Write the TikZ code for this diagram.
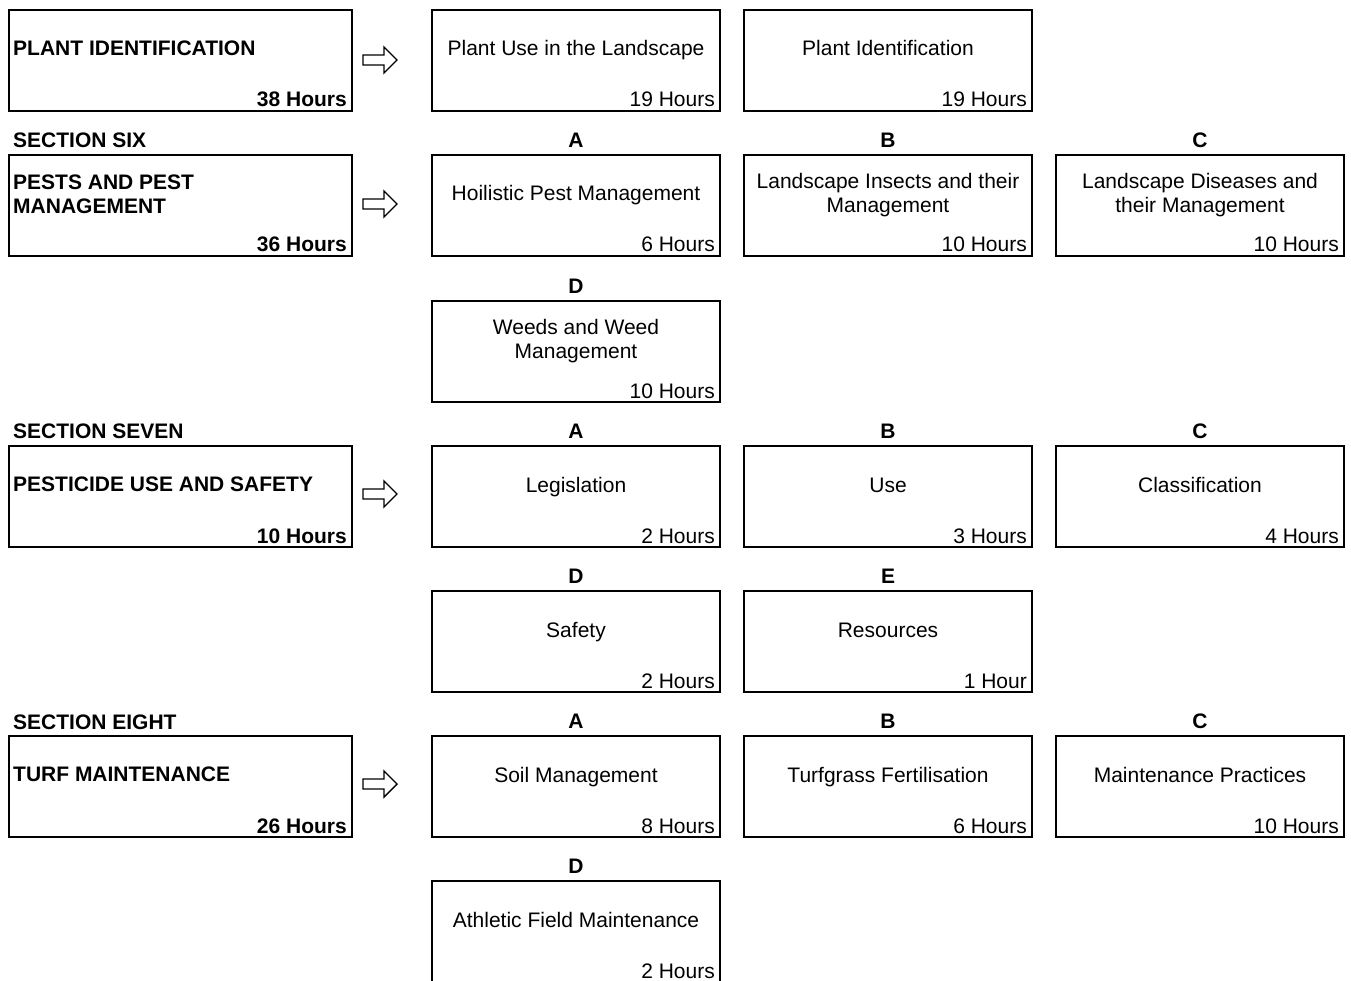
\documentclass[tikz,border=0pt]{standalone}
\usepackage{fontspec}
\setmainfont{Liberation Sans}
\usetikzlibrary{calc}
\tikzset{
  box/.style={draw, line width=2pt, anchor=north west, minimum height=101pt, inner sep=0pt},
  lbox/.style={box, minimum width=343pt},
  sbox/.style={box, minimum width=288pt},
  ttl/.style={font=\fontsize{21}{24}\selectfont, align=center, inner sep=0pt},
  ttl1/.style={font=\fontsize{21}{24}\selectfont, inner sep=0pt, anchor=base},
  ltl/.style={font=\fontsize{21}{24}\selectfont\bfseries, align=left, inner sep=0pt, anchor=west},
  hrs/.style={font=\fontsize{21}{24}\selectfont, inner sep=0pt, anchor=base east, xshift=-6pt, yshift=5pt},
  bhrs/.style={hrs, font=\fontsize{21}{24}\selectfont\bfseries},
  let/.style={font=\fontsize{21}{24}\selectfont\bfseries, inner sep=0pt, yshift=14pt},
  sec/.style={font=\fontsize{21}{24}\selectfont\bfseries, inner sep=0pt, anchor=west},
  arr/.style={draw, line width=1.4pt, line join=miter}
}
\newcommand{\openarrow}[1]{\draw[arr] ($(#1)+(-17,-5)$) -- ($(#1)+(4,-5)$) -- ($(#1)+(4,-13)$) -- ($(#1)+(17,0)$) -- ($(#1)+(4,13)$) -- ($(#1)+(4,5)$) -- ($(#1)+(-17,5)$) -- cycle;}
\begin{document}
\begin{tikzpicture}[x=1pt,y=-1pt]
\useasboundingbox (0,0) rectangle (1351,981);
\clip (0,0) rectangle (1351,981);
% ---------- Row 1 ----------
\node[lbox] (l1) at (8,9) {};
\node[ltl] (l1t) at (13,48) {PLANT IDENTIFICATION};
\node[bhrs] (l1h) at (l1.south east) {38 Hours};
\coordinate (a1) at (380,60);
\openarrow{a1}
\node[sbox] (b1a) at (431,9) {};
\node[ttl1] (b1at) at ($(b1a.north)+(0,47)$) {Plant Use in the Landscape};
\node[hrs] (b1ah) at (b1a.south east) {19 Hours};
\node[sbox] (b1b) at (743,9) {};
\node[ttl1] (b1bt) at ($(b1b.north)+(0,47)$) {Plant Identification};
\node[hrs] (b1bh) at (b1b.south east) {19 Hours};
% ---------- Section six ----------
\node[sec] (s6) at (13,140) {SECTION SIX};
\node[lbox] (l2) at (8,154) {};
\node[ltl] (l2t) at (13,194) {PESTS AND PEST\\MANAGEMENT};
\node[bhrs] (l2h) at (l2.south east) {36 Hours};
\coordinate (a2) at (380,204);
\openarrow{a2}
\node[sbox] (b2a) at (431,154) {};
\node[let] (b2al) at (b2a.north) {A};
\node[ttl1] (b2at) at ($(b2a.north)+(0,47)$) {Hoilistic Pest Management};
\node[hrs] (b2ah) at (b2a.south east) {6 Hours};
\node[sbox] (b2b) at (743,154) {};
\node[let] (b2bl) at (b2b.north) {B};
\node[ttl] (b2bt) at ($(b2b.north)+(0,41)$) {Landscape Insects and their\\Management};
\node[hrs] (b2bh) at (b2b.south east) {10 Hours};
\node[sbox] (b2c) at (1055,154) {};
\node[let] (b2cl) at (b2c.north) {C};
\node[ttl] (b2ct) at ($(b2c.north)+(0,41)$) {Landscape Diseases and\\their Management};
\node[hrs] (b2ch) at (b2c.south east) {10 Hours};
\node[sbox] (b3d) at (431,300) {};
\node[let] (b3dl) at (b3d.north) {D};
\node[ttl] (b3dt) at ($(b3d.north)+(0,41)$) {Weeds and Weed\\Management};
\node[hrs] (b3dh) at (b3d.south east) {10 Hours};
% ---------- Section seven ----------
\node[sec] (s7) at (13,431) {SECTION SEVEN};
\node[lbox] (l4) at (8,445) {};
\node[ltl] (l4t) at (13,484) {PESTICIDE USE AND SAFETY};
\node[bhrs] (l4h) at (l4.south east) {10 Hours};
\coordinate (a4) at (380,494);
\openarrow{a4}
\node[sbox] (b4a) at (431,445) {};
\node[let] (b4al) at (b4a.north) {A};
\node[ttl1] (b4at) at ($(b4a.north)+(0,47)$) {Legislation};
\node[hrs] (b4ah) at (b4a.south east) {2 Hours};
\node[sbox] (b4b) at (743,445) {};
\node[let] (b4bl) at (b4b.north) {B};
\node[ttl1] (b4bt) at ($(b4b.north)+(0,47)$) {Use};
\node[hrs] (b4bh) at (b4b.south east) {3 Hours};
\node[sbox] (b4c) at (1055,445) {};
\node[let] (b4cl) at (b4c.north) {C};
\node[ttl1] (b4ct) at ($(b4c.north)+(0,47)$) {Classification};
\node[hrs] (b4ch) at (b4c.south east) {4 Hours};
\node[sbox] (b5d) at (431,590) {};
\node[let] (b5dl) at (b5d.north) {D};
\node[ttl1] (b5dt) at ($(b5d.north)+(0,47)$) {Safety};
\node[hrs] (b5dh) at (b5d.south east) {2 Hours};
\node[sbox] (b5e) at (743,590) {};
\node[let] (b5el) at (b5e.north) {E};
\node[ttl1] (b5et) at ($(b5e.north)+(0,47)$) {Resources};
\node[hrs] (b5eh) at (b5e.south east) {1 Hour};
% ---------- Section eight ----------
\node[sec] (s8) at (13,722) {SECTION EIGHT};
\node[lbox] (l6) at (8,735) {};
\node[ltl] (l6t) at (13,774) {TURF MAINTENANCE};
\node[bhrs] (l6h) at (l6.south east) {26 Hours};
\coordinate (a6) at (380,784);
\openarrow{a6}
\node[sbox] (b6a) at (431,735) {};
\node[let] (b6al) at (b6a.north) {A};
\node[ttl1] (b6at) at ($(b6a.north)+(0,47)$) {Soil Management};
\node[hrs] (b6ah) at (b6a.south east) {8 Hours};
\node[sbox] (b6b) at (743,735) {};
\node[let] (b6bl) at (b6b.north) {B};
\node[ttl1] (b6bt) at ($(b6b.north)+(0,47)$) {Turfgrass Fertilisation};
\node[hrs] (b6bh) at (b6b.south east) {6 Hours};
\node[sbox] (b6c) at (1055,735) {};
\node[let] (b6cl) at (b6c.north) {C};
\node[ttl1] (b6ct) at ($(b6c.north)+(0,47)$) {Maintenance Practices};
\node[hrs] (b6ch) at (b6c.south east) {10 Hours};
\node[sbox] (b7d) at (431,880) {};
\node[let] (b7dl) at (b7d.north) {D};
\node[ttl1] (b7dt) at ($(b7d.north)+(0,47)$) {Athletic Field Maintenance};
\node[hrs] (b7dh) at (b7d.south east) {2 Hours};
\end{tikzpicture}
\end{document}
